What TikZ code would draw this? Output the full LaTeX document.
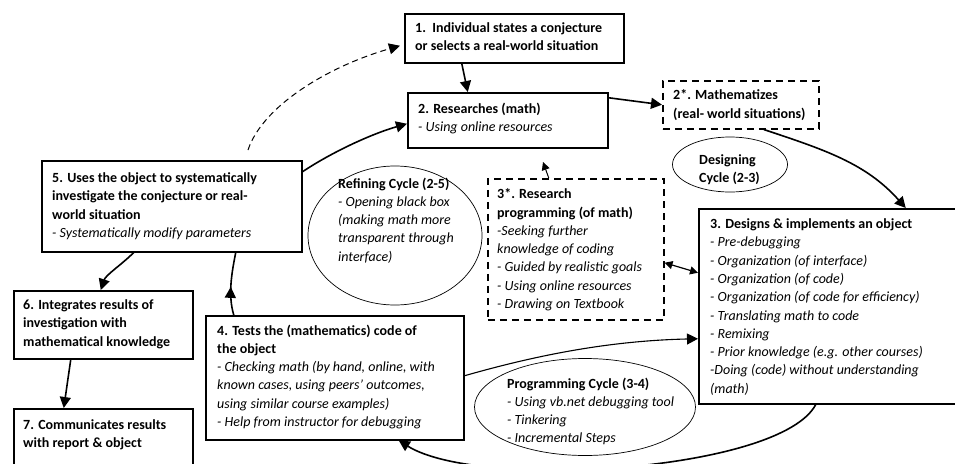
\documentclass[tikz,border=0pt]{standalone}
\usepackage{fontspec}
\setmainfont{Carlito}
\usetikzlibrary{shapes.geometric,arrows.meta,decorations.markings}
\begin{document}
\begin{tikzpicture}[x=1pt,y=1pt,
  box/.style={draw, line width=1.5pt, inner sep=0pt, anchor=north west},
  dbox/.style={box, dash pattern=on 7pt off 5pt},
  txt/.style={anchor=north west, inner sep=0pt, align=left, font=\fontsize{14}{18.3}\selectfont},
  ell/.style={draw, ellipse, line width=0.7pt, inner sep=0pt},
  tip/.style={-{Triangle[length=11pt,width=11pt]}},
  arr/.style={line width=1.6pt, tip},
  smalltip/.style={line width=1.2pt, {Triangle[length=8pt,width=8pt]}-{Triangle[length=8pt,width=8pt]}},
]
\useasboundingbox (0,0) rectangle (955,-463);
\clip (0,0) rectangle (955,-463);

% boxes
\node[box, minimum width=219pt, minimum height=49pt] (b1) at (404,-13) {};
\node[box, minimum width=200pt, minimum height=55pt] (b2) at (407,-92) {};
\node[dbox, minimum width=156pt, minimum height=48pt] (b2s) at (662,-80) {};
\node[box, minimum width=264pt, minimum height=195pt] (b3) at (698,-208) {};
\node[dbox, minimum width=176pt, minimum height=141pt] (b3s) at (487,-178) {};
\node[box, minimum width=260pt, minimum height=91pt] (b5) at (41,-160) {};
\node[box, minimum width=179pt, minimum height=68pt] (b6) at (13,-290) {};
\node[box, minimum width=179pt, minimum height=70pt] (b7) at (13,-408) {};
\node[box, minimum width=258pt, minimum height=124pt] (b4) at (205,-315) {};

% ellipses
\node[ell, minimum width=115pt, minimum height=55pt] (eD) at (730,-164.5) {};
\node[ell, minimum width=174pt, minimum height=139pt] (eR) at (395,-235.5) {};
\node[ell, minimum width=221pt, minimum height=97pt] (eP) at (585,-407) {};

% texts
\node[txt] (t1) at (415,-22.5) {\textbf{1.\ \ Individual states a conjecture}\\\textbf{or selects a real-world situation}};
\node[txt] (t2) at (418,-102.5) {\textbf{2. Researches (math)}\\\textit{- Using online resources}};
\node[txt] (t2s) at (673,-89.5) {\textbf{2*. Mathematizes}\\\textbf{(real- world situations)}};
\node[txt] (t3) at (710,-218.5) {\textbf{3. Designs \& implements an object}\\
  \textit{- Pre-debugging}\\
  \textit{- Organization (of interface)}\\
  \textit{- Organization (of code)}\\
  \textit{- Organization (of code for efficiency)}\\
  \textit{- Translating math to code}\\
  \textit{- Remixing}\\
  \textit{- Prior knowledge (e.g. other courses)}\\
  \textit{-Doing (code) without understanding}\\
  \textit{(math)}};
\node[txt] (t3s) at (497,-188.5) {\textbf{3*. Research}\\
  \textbf{programming (of math)}\\
  \textit{-Seeking further}\\
  \textit{knowledge of coding}\\
  \textit{- Guided by realistic goals}\\
  \textit{- Using online resources}\\
  \textit{- Drawing on Textbook}};
\node[txt] (t5) at (52,-172.5) {\textbf{5. Uses the object to systematically}\\
  \textbf{investigate the conjecture or real-}\\
  \textbf{world situation}\\
  \textit{- Systematically modify parameters}};
\node[txt] (t6) at (23,-299.5) {\textbf{6. Integrates results of}\\\textbf{investigation with}\\\textbf{mathematical knowledge}};
\node[txt] (t7) at (23,-419.5) {\textbf{7. Communicates results}\\\textbf{with report \& object}};
\node[txt] (t4) at (217,-324.5) {\textbf{4. Tests the (mathematics) code of}\\
  \textbf{the object}\\
  \textit{- Checking math (by hand, online, with}\\
  \textit{known cases, using peers’ outcomes,}\\
  \textit{using similar course examples)}\\
  \textit{- Help from instructor for debugging}};
\node[txt] (tD) at (699,-154.5) {\textbf{Designing}\\\textbf{Cycle (2-3)}};
\node[txt] (tR) at (338,-177.5) {\textbf{Refining Cycle (2-5)}\\
  \textit{- Opening black box}\\
  \textit{(making math more}\\
  \textit{transparent through}\\
  \textit{interface)}};
\node[txt] (tP) at (507,-377.5) {\textbf{Programming Cycle (3-4)}\\
  \textit{- Using vb.net debugging tool}\\
  \textit{- Tinkering}\\
  \textit{- Incremental Steps}};

% connectors
\coordinate (ds) at (248,-150);
\coordinate (up) at (543,-162);
\draw[arr] ([xshift=-52.5pt]b1.south) -- ([xshift=-40pt]b2.north);
\draw[arr] ([yshift=22.5pt]b2.east) -- (b2s.west);
\draw[arr] ([xshift=23pt]b2s.south) .. controls +(60,-20) and +(-40,45) .. ([xshift=75pt]b3.north);
\draw[arr] ([yshift=34.5pt]b5.east) .. controls +(30,20) and +(-35,-10) .. ([yshift=-3.5pt]b2.west);
\draw[line width=1pt, dash pattern=on 6pt off 4pt, tip] (ds) .. controls +(15,45) and +(-70,-20) .. ([xshift=-4pt,yshift=-7.5pt]b1.west);
\draw[line width=1pt, -{Triangle[length=8pt,width=8pt]}] ([xshift=-27pt]b3s.north) -- (up);
\draw[smalltip] ([yshift=-13.5pt]b3s.east) -- ([yshift=33.5pt]b3.west);
\draw[line width=1.1pt, tip] ([yshift=2pt]b4.east) .. controls +(70,20) and +(-90,-2) .. ([yshift=-32.5pt]b3.west);
\draw[arr] ([xshift=-15pt]b3.south) .. controls +(-35,-67) and +(80,-50) .. ([xshift=64pt]b4.south);
\draw[line width=1.6pt, postaction={decorate},
  decoration={markings, mark=at position 0.45 with {\arrow{Triangle[length=11pt,width=11pt]}}}]
  ([xshift=-101pt]b4.north) .. controls +(-6,20) and +(-4,-20) .. ([xshift=64pt]b5.south);
\draw[arr] ([xshift=-38pt]b5.south) .. controls +(-12,-12) and +(5,15) .. ([xshift=-2.5pt]b6.north);
\draw[arr] ([xshift=-32.5pt]b6.south) -- ([xshift=-39.5pt]b7.north);
\end{tikzpicture}
\end{document}
